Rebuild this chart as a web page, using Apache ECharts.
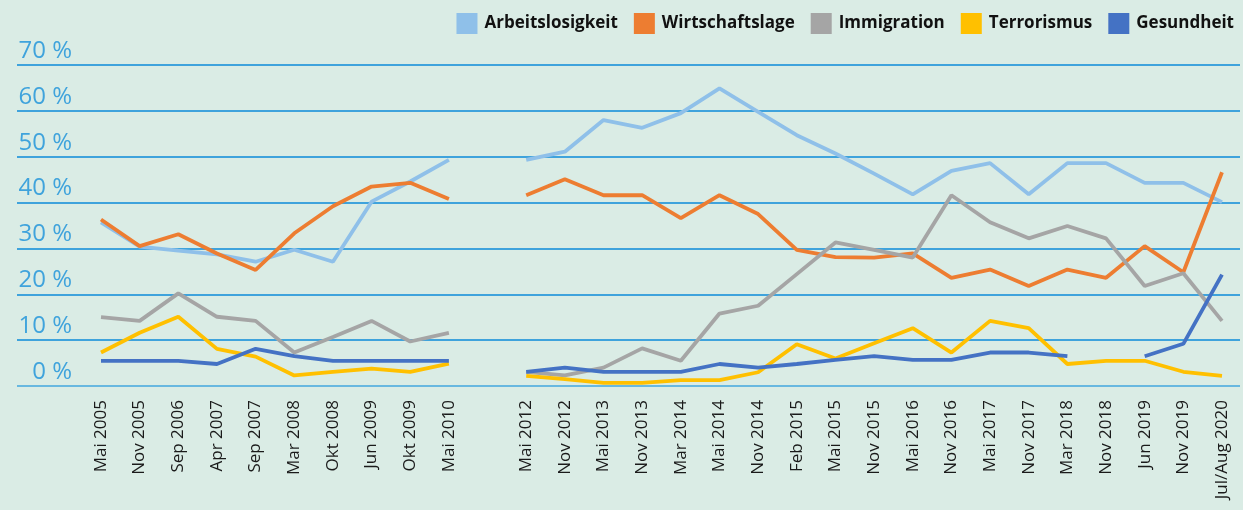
<!DOCTYPE html>
<html>
<head>
<meta charset="utf-8">
<script src="https://cdn.jsdelivr.net/npm/echarts@6/dist/echarts.min.js"></script>
<style>
    html, body { margin: 0; padding: 0; background: #daece5; }
    #chart { width: 1243px; height: 510px; }
</style>
</head>
<body>
<div id="chart"></div>
<script>
// Survey dates (empty slot = gap between 2010 and 2012)
const categories = [
    'Mai 2005', 'Nov 2005', 'Sep 2006', 'Apr 2007', 'Sep 2007', 'Mar 2008', 'Okt 2008',
    'Jun 2009', 'Okt 2009', 'Mai 2010', '',
    'Mai 2012', 'Nov 2012', 'Mai 2013', 'Nov 2013', 'Mar 2014', 'Mai 2014', 'Nov 2014',
    'Feb 2015', 'Mai 2015', 'Nov 2015', 'Mai 2016', 'Nov 2016', 'Mai 2017', 'Nov 2017',
    'Mar 2018', 'Nov 2018', 'Jun 2019', 'Nov 2019', 'Jul/Aug 2020'
]

const arbeitslosigkeit = [35.7, 30.4, 29.5, 28.7, 27.1, 29.7, 27.1, 40.2, 44.6, 49.3, null,
    49.3, 51.1, 58.0, 56.3, 59.5, 64.9, 59.8, 54.7, 50.7, 46.3, 41.8, 46.9, 48.6, 41.8,
    48.6, 48.6, 44.3, 44.3, 40.1]
const wirtschaftslage = [36.3, 30.5, 33.1, 28.9, 25.3, 33.3, 39.2, 43.5, 44.3, 40.8, null,
    41.6, 45.1, 41.6, 41.6, 36.6, 41.6, 37.5, 29.7, 28.1, 28.0, 28.9, 23.6, 25.4, 21.8,
    25.4, 23.6, 30.5, 24.8, 46.6]
const immigration = [15.0, 14.2, 20.2, 15.1, 14.2, 7.3, 10.7, 14.2, 9.7, 11.6, null,
    3.1, 2.3, 4.0, 8.2, 5.5, 15.8, 17.5, 24.4, 31.3, 29.7, 28.0, 41.6, 35.7, 32.2,
    34.9, 32.2, 21.8, 24.6, 14.2]
const terrorismus = [7.3, 11.6, 15.1, 8.1, 6.4, 2.3, 3.1, 3.8, 3.1, 4.9, null,
    2.2, 1.5, 0.7, 0.7, 1.3, 1.3, 3.0, 9.1, 6.0, 9.3, 12.6, 7.3, 14.2, 12.6,
    4.8, 5.5, 5.5, 3.1, 2.2]
const gesundheit = [5.5, 5.5, 5.5, 4.8, 8.1, 6.5, 5.5, 5.5, 5.5, 5.5, null,
    3.1, 4.0, 3.1, 3.1, 3.1, 4.8, 4.0, 4.8, 5.7, 6.5, 5.7, 5.7, 7.3, 7.3,
    6.5, null, 6.5, 9.2, 24.3]

const seriesNames = ['Arbeitslosigkeit', 'Wirtschaftslage', 'Immigration', 'Terrorismus', 'Gesundheit']
const seriesData = [arbeitslosigkeit, wirtschaftslage, immigration, terrorismus, gesundheit]
const COLORS = ['#8fc0e9', '#ed7d31', '#a5a5a5', '#ffc000', '#4472c4']

const FONT = '"Open Sans", "Noto Sans", sans-serif'

const chart = echarts.init(document.getElementById('chart'))

chart.setOption({
    animation: false,
    backgroundColor: '#daece5',
    color: COLORS,
    legend: {
        data: seriesNames,
        right: 4,
        top: 8,
        icon: 'rect',
        itemWidth: 21,
        itemHeight: 21,
        itemGap: 16,
        textStyle: {
            fontFamily: FONT,
            fontWeight: 'bold',
            fontSize: 17,
            color: '#111',
            padding: [0, 0, 0, 2]
        }
    },
    grid: [
        // gridlines and percent labels span almost the full width
        { left: 17, right: 3, top: 65, bottom: 124 },
        // data area
        { left: 101, right: 21, top: 65, bottom: 124 }
    ],
    xAxis: [
        { gridIndex: 0, type: 'value', show: false, min: 0, max: 1 },
        {
            gridIndex: 1,
            type: 'category',
            data: categories,
            boundaryGap: false,
            axisLine: { show: false },
            axisTick: { show: false },
            axisLabel: {
                interval: 0,
                rotate: 90,
                margin: 14,
                fontFamily: FONT,
                fontSize: 17,
                color: '#1a1a1a'
            }
        }
    ],
    yAxis: [
        {
            gridIndex: 0,
            type: 'value',
            min: 0,
            max: 70,
            interval: 10,
            axisLine: { show: false },
            axisTick: { show: false },
            axisLabel: {
                inside: true,
                align: 'right',
                verticalAlign: 'bottom',
                margin: 55,
                padding: [0, 0, 2, 0],
                fontFamily: FONT,
                fontSize: 24,
                color: '#3fa3dc',
                formatter: v => v + ' %'
            },
            splitLine: {
                lineStyle: {
                    width: 2,
                    color: ['#68b8e0', '#3fa3dc', '#3fa3dc', '#3fa3dc', '#3fa3dc', '#3fa3dc', '#3fa3dc', '#3fa3dc']
                }
            }
        },
        { gridIndex: 1, type: 'value', min: 0, max: 70, show: false, splitLine: { show: false } }
    ],
    series: seriesData.map((d, i) => ({
        name: seriesNames[i],
        type: 'line',
        xAxisIndex: 1,
        yAxisIndex: 1,
        data: d,
        symbol: 'none',
        lineStyle: { width: 3.8, color: COLORS[i] },
        itemStyle: { color: COLORS[i] }
    }))
})
</script>
</body>
</html>
